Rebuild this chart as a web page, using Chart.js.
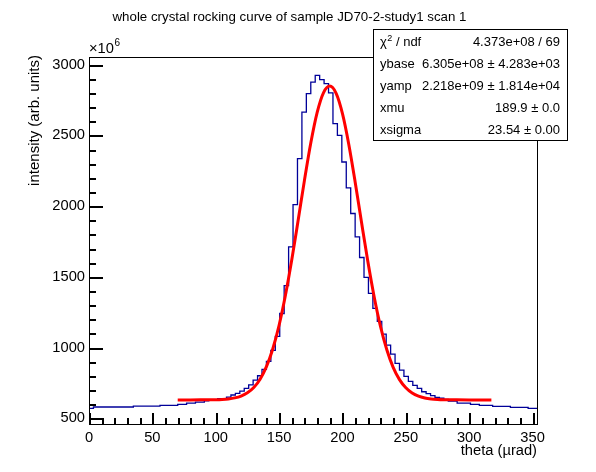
<!DOCTYPE html>
<html>
<head>
  <title>whole crystal rocking curve</title>
  <script src="https://cdn.jsdelivr.net/npm/chart.js"></script>
  <style>
    body { margin: 0; background: #fff; }
    #plot { display: block; }
  </style>
</head>
<body>
  <canvas id="plot" width="596" height="472"></canvas>
  <script>
    // histogram: bins of 3.5 urad starting at theta = 0, contents in units of 1e6
    const binWidth = 3.5;
    const counts = [
      571, 571, 580, 580, 580, 580, 580, 580, 580, 580,
      580, 586, 586, 586, 586, 586, 586, 592, 592, 592,
      592, 599, 599, 608, 608, 615, 615, 624, 630, 630,
      640, 640, 650, 665, 676, 693, 712, 737, 770, 801,
      846, 902, 980, 1079, 1241, 1438, 1712, 2011, 2336, 2665,
      2795, 2877, 2924, 2894, 2866, 2800, 2583, 2500, 2312, 2129,
      1948, 1783, 1637, 1496, 1383, 1277, 1185, 1095, 1018, 954,
      888, 841, 797, 761, 733, 712, 688, 674, 660, 648,
      642, 634, 622, 622, 608, 608, 608, 599, 599, 592,
      592, 592, 585, 585, 585, 585, 578, 578, 578, 578,
      571
    ];

    // gaussian fit curve
    const fitX = [70, 80, 90, 100, 105, 110, 115, 120, 125, 130, 135, 140, 145, 150, 155,
      160, 165, 170, 175, 180, 185, 190, 195, 200, 205, 210, 215, 220, 225, 230,
      235, 240, 245, 250, 255, 260, 265, 270, 275, 280, 290, 300, 310, 317.5];
    const fitY = [630.5, 630.5, 630.6, 632.0, 633.8, 637.5, 644.6, 657.5, 680.1, 717.6, 776.6, 865.0, 990.3, 1158, 1369.5,
      1620.4, 1898, 2182, 2446, 2661, 2801, 2848.5, 2797, 2653.5, 2436, 2171, 1887, 1610, 1360, 1150,
      984.5, 860.7, 773.8, 715.7, 679.0, 656.8, 644.2, 637.3, 633.7, 632.0, 630.6, 630.5, 630.5, 630.5];

    const xTicks = [0, 50, 100, 150, 200, 250, 300, 350];
    const yTicks = [500, 1000, 1500, 2000, 2500, 3000];
    const xMinor = [10, 20, 30, 40, 60, 70, 80, 90, 110, 120, 130, 140, 160, 170, 180, 190,
      210, 220, 230, 240, 260, 270, 280, 290, 310, 320, 330, 340];
    const yMinor = [600, 700, 800, 900, 1100, 1200, 1300, 1400, 1600, 1700, 1800, 1900,
      2100, 2200, 2300, 2400, 2600, 2700, 2800, 2900];

    const statLabels = ['χ2 / ndf', 'ybase', 'yamp', 'xmu', 'xsigma'];
    const statValues = ['4.373e+08 / 69', '6.305e+08 ± 4.283e+03', '2.218e+09 ± 1.814e+04',
      '189.9 ± 0.0', '23.54 ± 0.00'];

    const FONT = "'Liberation Sans', Arial, sans-serif";

    const histPoints = counts.map((c, i) => ({ x: i * binWidth, y: c }));
    histPoints.push({ x: counts.length * binWidth, y: counts[counts.length - 1] });
    const fitPoints = fitX.map((x, i) => ({ x: x, y: fitY[i] }));

    // frame, inward ticks, titles and stats box, drawn ROOT style
    const rootDecor = {
      id: 'rootDecor',
      afterDraw(chart) {
        const ctx = chart.ctx;
        const a = chart.chartArea;
        const xs = chart.scales.x;
        const ys = chart.scales.y;
        const left = Math.round(a.left), right = Math.round(a.right);
        const top = Math.round(a.top), bottom = Math.round(a.bottom);
        ctx.save();
        ctx.fillStyle = '#000';

        // ticks (inside the frame)
        xTicks.forEach(v => ctx.fillRect(Math.round(xs.getPixelForValue(v)), bottom - 11, 2, 11));
        xMinor.forEach(v => ctx.fillRect(Math.round(xs.getPixelForValue(v)), bottom - 6, 2, 6));
        yTicks.forEach(v => ctx.fillRect(left, Math.round(ys.getPixelForValue(v)), 14, 2));
        yMinor.forEach(v => ctx.fillRect(left, Math.round(ys.getPixelForValue(v)), 7, 2));

        // frame
        ctx.fillRect(left, top, right - left + 1, 1);
        ctx.fillRect(left, bottom, right - left + 1, 1);
        ctx.fillRect(left, top, 1, bottom - top + 1);
        ctx.fillRect(right, top, 1, bottom - top + 1);

        ctx.textBaseline = 'alphabetic';

        // title
        ctx.font = '13.3px ' + FONT;
        ctx.textAlign = 'center';
        ctx.fillText('whole crystal rocking curve of sample JD70-2-study1 scan 1', 289.5, 21);

        // axis titles
        ctx.font = '14.7px ' + FONT;
        ctx.textAlign = 'right';
        ctx.fillText('theta (µrad)', right, 455);
        ctx.save();
        ctx.translate(39, top - 2);
        ctx.rotate(-Math.PI / 2);
        ctx.font = '15px ' + FONT;
        ctx.fillText('intensity (arb. units)', 0, 0);
        ctx.restore();

        // exponent
        ctx.textAlign = 'left';
        ctx.font = '14.7px ' + FONT;
        ctx.fillText('×10', left, 53);
        const w10 = ctx.measureText('×10').width;
        ctx.font = '10px ' + FONT;
        ctx.fillText('6', left + w10 + 0.5, 46);

        // stats box
        const bx = 373, by = 29, bw = 194, bh = 111;
        ctx.fillStyle = '#fff';
        ctx.fillRect(bx, by, bw, bh);
        ctx.fillStyle = '#000';
        ctx.fillRect(bx, by, bw + 1, 1);
        ctx.fillRect(bx, by + bh, bw + 1, 1);
        ctx.fillRect(bx, by, 1, bh + 1);
        ctx.fillRect(bx + bw, by, 1, bh + 1);
        ctx.textBaseline = 'middle';
        const rowH = bh / statLabels.length;
        statLabels.forEach((lab, i) => {
          const cy = by + rowH * (i + 0.5) + 2;
          ctx.textAlign = 'left';
          ctx.font = '13px ' + FONT;
          if (lab.startsWith('χ2')) {
            ctx.fillText('χ', bx + 7, cy);
            const wc = ctx.measureText('χ').width;
            ctx.font = '9px ' + FONT;
            ctx.fillText('2', bx + 7 + wc + 0.5, cy - 4);
            const w2 = ctx.measureText('2').width;
            ctx.font = '13px ' + FONT;
            ctx.fillText(' / ndf', bx + 7 + wc + w2 + 0.5, cy);
          } else {
            ctx.fillText(lab, bx + 7, cy);
          }
          ctx.textAlign = 'right';
          ctx.fillText(statValues[i], bx + bw - 7, cy);
        });
        ctx.restore();
      }
    };

    new Chart(document.getElementById('plot'), {
      type: 'line',
      data: {
        datasets: [{
          label: 'histogram',
          data: histPoints,
          stepped: 'after',
          borderColor: '#000099',
          borderWidth: 1.3,
          pointRadius: 0,
          fill: false,
          order: 1
        }, {
          label: 'fit',
          data: fitPoints,
          borderColor: '#ff0000',
          borderWidth: 3,
          pointRadius: 0,
          cubicInterpolationMode: 'monotone',
          fill: false,
          order: 0
        }]
      },
      plugins: [rootDecor],
      options: {
        responsive: false,
        animation: false,
        layout: { padding: { top: 57, right: 59, left: 0, bottom: 0 } },
        plugins: {
          legend: { display: false },
          title: { display: false },
          tooltip: { enabled: false }
        },
        scales: {
          x: {
            type: 'linear',
            min: 0,
            max: 353.5,
            afterBuildTicks: s => { s.ticks = xTicks.map(v => ({ value: v })); },
            afterFit: s => { s.height = 48; },
            grid: { display: false, drawTicks: false },
            border: { display: false },
            ticks: {
              color: '#000',
              padding: 5,
              maxRotation: 0,
              autoSkip: false,
              callback: v => String(v),
              font: { family: FONT, size: 14.7 }
            }
          },
          y: {
            type: 'linear',
            min: 460,
            max: 3054,
            afterBuildTicks: s => { s.ticks = yTicks.map(v => ({ value: v })); },
            afterFit: s => { s.width = 89; },
            grid: { display: false, drawTicks: false },
            border: { display: false },
            ticks: {
              color: '#000',
              padding: 4,
              autoSkip: false,
              callback: v => String(v),
              font: { family: FONT, size: 14.7 }
            }
          }
        }
      }
    });
  </script>
</body>
</html>
